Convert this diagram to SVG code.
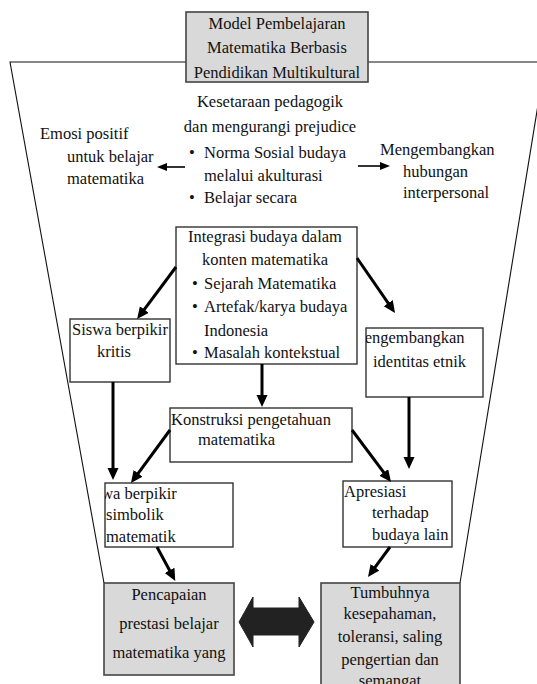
<svg xmlns="http://www.w3.org/2000/svg" width="537" height="684" viewBox="0 0 537 684">
<style>
text{font-family:"Liberation Serif","Times New Roman",serif;font-size:16.5px;fill:#111}
.c{text-anchor:middle}
.box{fill:#fff;stroke:#333;stroke-width:1.4}
.gbox{fill:#d9d9d9;stroke:#444;stroke-width:1.6}
.thick{stroke:#000;stroke-width:3;fill:none;marker-end:url(#ah)}
.thin{stroke:#000;stroke-width:1.6;fill:none;marker-end:url(#ahs)}
</style>
<defs>
<marker id="ah" markerUnits="userSpaceOnUse" markerWidth="13" markerHeight="12" refX="3" refY="5.5" orient="auto">
<path d="M0,0 L12,5.5 L0,11 z" fill="#000"/>
</marker>
<marker id="ahs" markerUnits="userSpaceOnUse" markerWidth="11" markerHeight="9" refX="2" refY="4" orient="auto">
<path d="M0,0 L10,4 L0,8 z" fill="#000"/>
</marker>
<clipPath id="clipEtnik"><rect x="366" y="328" width="117" height="69"/></clipPath>
<clipPath id="clipSimb"><rect x="105" y="483" width="128" height="64"/></clipPath>
</defs>

<g id="frame">
<polyline points="104,583 10,62 545,62 460,583" fill="none" stroke="#111" stroke-width="1.1"/>
</g>

<g id="title">
<rect class="gbox" x="186" y="12" width="182" height="70"/>
<text class="c" x="277" y="29">Model Pembelajaran</text>
<text class="c" x="277" y="53">Matematika Berbasis</text>
<text class="c" x="277" y="78">Pendidikan Multikultural</text>
</g>

<g id="kesetaraan">
<text class="c" x="270" y="107">Kesetaraan pedagogik</text>
<text class="c" x="270" y="132">dan mengurangi prejudice</text>
<text x="189" y="158">•</text>
<text x="204" y="158">Norma Sosial budaya</text>
<text x="204" y="181">melalui akulturasi</text>
<text x="189" y="203">•</text>
<text x="204" y="203">Belajar secara</text>
</g>

<g id="emosi">
<text x="40" y="139">Emosi positif</text>
<text x="67" y="162">untuk belajar</text>
<text x="67" y="184">matematika</text>
</g>

<g id="hubungan">
<text x="380" y="155">Mengembangkan</text>
<text x="403" y="177">hubungan</text>
<text x="403" y="198">interpersonal</text>
</g>

<g id="integrasi">
<rect class="box" x="176" y="227" width="181" height="137"/>
<text x="188" y="242">Integrasi budaya dalam</text>
<text x="202" y="265">konten matematika</text>
<text x="192" y="289">•</text>
<text x="204" y="289">Sejarah Matematika</text>
<text x="192" y="312">•</text>
<text x="204" y="312">Artefak/karya budaya</text>
<text x="204" y="336">Indonesia</text>
<text x="192" y="358">•</text>
<text x="204" y="358">Masalah kontekstual</text>
</g>

<g id="kritis">
<rect class="box" x="70" y="319" width="100" height="63"/>
<text class="c" x="120" y="335">Siswa berpikir</text>
<text class="c" x="114" y="357">kritis</text>
</g>

<g id="etnik">
<rect class="box" x="366" y="328" width="117" height="69"/>
<g clip-path="url(#clipEtnik)">
<text x="350" y="343">Mengembangkan</text>
<text x="373" y="367">identitas etnik</text>
</g>
</g>

<g id="konstruksi">
<rect class="box" x="170" y="408" width="182" height="54"/>
<text x="171" y="425">Konstruksi pengetahuan</text>
<text x="198" y="445">matematika</text>
</g>

<g id="simbolik">
<rect class="box" x="105" y="483" width="128" height="64"/>
<g clip-path="url(#clipSimb)">
<text x="81" y="499">Siswa berpikir</text>
<text x="106" y="520">simbolik</text>
<text x="106" y="542">matematik</text>
</g>
</g>

<g id="apresiasi">
<rect class="box" x="343" y="481" width="109" height="66"/>
<text x="344" y="497">Apresiasi</text>
<text x="372" y="518">terhadap</text>
<text x="372" y="540">budaya lain</text>
</g>

<g id="pencapaian">
<rect class="gbox" x="104" y="583" width="130" height="92"/>
<text class="c" x="169" y="600">Pencapaian</text>
<text class="c" x="169" y="629">prestasi belajar</text>
<text class="c" x="169" y="658">matematika yang</text>
</g>

<g id="tumbuhnya">
<rect class="gbox" x="321" y="583" width="139" height="110"/>
<text class="c" x="390" y="598">Tumbuhnya</text>
<text class="c" x="390" y="619">kesepahaman,</text>
<text class="c" x="390" y="642">toleransi, saling</text>
<text class="c" x="390" y="665">pengertian dan</text>
<text class="c" x="390" y="686">semangat</text>
</g>

<g id="connectors">
<line class="thin" x1="185" y1="167" x2="165" y2="167"/>
<line class="thin" x1="358" y1="166" x2="382" y2="166"/>
<line class="thick" x1="176" y1="267" x2="142.5" y2="311.9"/>
<line class="thick" x1="357" y1="258" x2="389.9" y2="305.6"/>
<line class="thick" x1="262" y1="364" x2="262" y2="398"/>
<line class="thick" x1="113" y1="382" x2="113" y2="471"/>
<line class="thick" x1="170" y1="430" x2="136.3" y2="475.8"/>
<line class="thick" x1="352" y1="430" x2="385.6" y2="474.8"/>
<line class="thick" x1="409" y1="397" x2="409" y2="460"/>
<line class="thick" x1="157" y1="547" x2="171" y2="573"/>
<line class="thick" x1="390" y1="547" x2="373.3" y2="569.7"/>
<path d="M239,622 L253,597 L253,608 L299,608 L299,597 L314,622 L299,647 L299,635 L253,635 L253,647 Z" fill="#222" stroke="#222" stroke-width="1" stroke-linejoin="round"/>
</g>
</svg>
